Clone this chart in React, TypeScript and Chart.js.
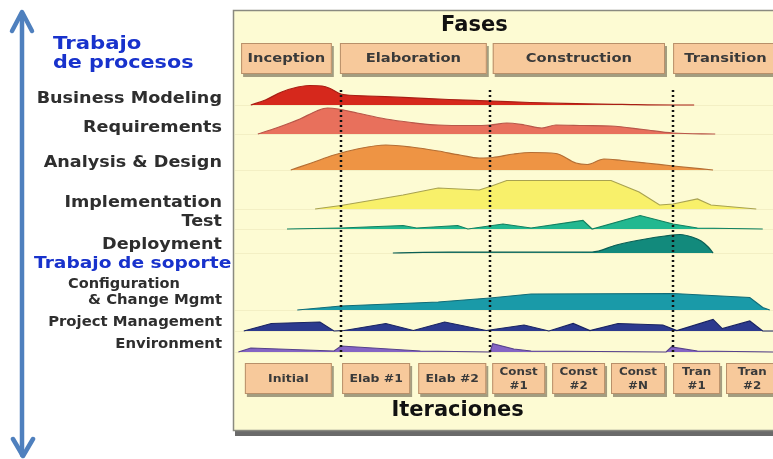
import React, { useEffect, useRef } from "react";
import { Chart, registerables } from "chart.js";

Chart.register(...registerables);

// ---- Phases / iterations (x in % of project timeline) ----
const phaseNames = ["Inception", "Elaboration", "Construction", "Transition"];
const phaseStart = [1.5, 19.8, 48.1, 81.5];
const phaseEnd = [18.3, 47.0, 80.0, 103];
const milestones = [20, 47.6, 81.5];

const iterationNames = [["Initial"], ["Elab #1"], ["Elab #2"], ["Const", "#1"], ["Const", "#2"], ["Const", "#N"], ["Tran", "#1"], ["Tran", "#2"]];
const iterStart = [2.2, 20.2, 34.3, 48.0, 59.1, 70.0, 81.5, 91.3];
const iterEnd = [18.3, 32.8, 46.9, 57.8, 68.9, 80.0, 90.2, 101];

// ---- Disciplines ----
const disciplineNames = [
  "Business Modeling", "Requirements", "Analysis & Design", "Implementation", "Test",
  "Deployment", "Configuration & Change Mgmt", "Project Management", "Environment",
];
const laneBase = [325, 296, 260, 221, 201, 177, 120, 99, 78];

// effort profiles: [time %, effort]
const businessModeling = [[3.3, 0], [6, 5], [9, 13], [12, 18], [14.2, 19.5], [16.5, 19], [18, 16.5], [20, 11], [25, 9], [31.5, 7.6], [40, 5.5], [47.9, 4], [55, 2.5], [63.5, 1.3], [72, 0.6], [81.5, 0], [85.4, 0]];
const requirements = [[4.6, 0], [8, 6], [12.4, 15], [15.5, 23], [17.5, 26], [19.5, 25], [23, 21], [28.3, 15], [33, 11.5], [38, 9], [44, 8.5], [47.6, 9], [50.7, 11], [54, 9], [57.2, 6], [59.8, 9], [65, 8.5], [70, 8], [76, 4.5], [81.5, 1], [89.3, 0]];
const analysisDesign = [[10.7, 0], [14.5, 7], [18.7, 15], [23, 21], [28.3, 25], [33, 23], [38, 19], [42, 15], [45.6, 12], [48.1, 12.5], [52, 16], [55.2, 17.5], [59.8, 16.5], [63.5, 7], [65.6, 5.5], [68.7, 11], [72, 9.5], [76.5, 7], [81.5, 4], [88.9, 0]];
const implementation = [[15.2, 0], [20, 3.5], [31.5, 14], [38, 21], [45.6, 19], [47.9, 23], [50.7, 28.5], [70, 28.5], [75.2, 17], [79, 4], [81.5, 5], [86, 10], [88.5, 4], [96.9, 0]];
const test = [[10, 0], [20, 1], [31.5, 3.5], [34, 1], [41.6, 3.5], [43.5, 0], [50, 5], [55.2, 1], [64.8, 8.7], [66.5, 0], [75.4, 13.5], [81.5, 5], [86, 1], [98.1, 0]];
const deployment = [[29.6, 0], [40, 0.8], [66.5, 1], [71, 8], [76.4, 14], [80, 17], [82.8, 18.5], [85, 16], [86.7, 12], [88, 6], [88.9, 0]];
const configuration = [[11.9, 0], [20, 4], [38, 8], [47.6, 12], [55.2, 16], [81.5, 16.5], [95.7, 12.5], [98.1, 2.5], [99.4, 0]];
const projectManagement = [[2, 0], [7.1, 7.5], [16.1, 9], [18.7, 0], [20.6, 0.5], [28.3, 7.5], [33.4, 0.5], [39.2, 9], [46.9, 0.5], [53.9, 6], [58.5, 0], [63, 7.5], [66.1, 0.5], [71.3, 7.5], [79.6, 6], [82.2, 0.5], [88.9, 11.6], [90.6, 2.3], [95.7, 10], [98.1, 0], [100, 0]];
const environment = [[1, 0], [3.3, 4], [18.7, 1], [20, 6], [34.7, 1], [47.6, 0], [48.1, 8.4], [52, 3], [55.2, 1], [80.2, 0], [81.2, 5], [86, 1], [100, 0]];

const profiles = [businessModeling, requirements, analysisDesign, implementation, test, deployment, configuration, projectManagement, environment];
const fillColors = ["#d6281c", "#e8705c", "#ee9444", "#f8f06a", "#22b890", "#128a7c", "#1a9aa8", "#2c3a8e", "#8464c4"];
const lineColors = ["#a81e14", "#b8574a", "#b46e34", "#a8a250", "#128060", "#0a5e54", "#106c78", "#1a2462", "#56428a"];
const smooth = [true, true, true, false, false, true, false, false, false];

// label layout (pixel offsets relative to lane baseline)
const labelLines = [["Business Modeling"], ["Requirements"], ["Analysis & Design"], ["Implementation"], ["Test"], ["Deployment"], ["Configuration", "& Change Mgmt"], ["Project Management"], ["Environment"]];
const labelDy = [[-6], [-6], [-7], [-6], [-7], [-8], [-26, -10], [-9], [-8]];

const FONT = "'DejaVu Sans', Verdana, sans-serif";

function box(ctx: CanvasRenderingContext2D, x0: number, y0: number, x1: number, y1: number) {
  ctx.fillStyle = "rgba(90,80,60,0.55)";
  ctx.fillRect(x0 + 2, y0 + 3, x1 - x0, y1 - y0);
  ctx.fillStyle = "#f7c99b";
  ctx.fillRect(x0, y0, x1 - x0, y1 - y0);
  ctx.strokeStyle = "#b8906a";
  ctx.lineWidth = 1;
  ctx.strokeRect(x0 + 0.5, y0 + 0.5, x1 - x0 - 1, y1 - y0 - 1);
}

// text drawn with a horizontal stretch (wide Verdana-like glyphs)
function text(ctx: CanvasRenderingContext2D, s: string, x: number, y: number, align: CanvasTextAlign, font: string, sx: number) {
  ctx.save();
  ctx.font = font;
  ctx.textAlign = align;
  ctx.textBaseline = "middle";
  ctx.translate(x, y);
  ctx.scale(sx, 1);
  ctx.fillText(s, 0, 0);
  ctx.restore();
}

const decor = {
  id: "decor",
  beforeDatasetsDraw(chart: any) {
    const ctx: CanvasRenderingContext2D = chart.ctx;
    const { left, right, top, bottom } = chart.chartArea;
    const xs = chart.scales.x;
    const ys = chart.scales.y;
    ctx.save();
    // panel
    ctx.fillStyle = "#6a6a6a";
    ctx.fillRect(left + 2, top + 3, right - left + 20, bottom - top + 3);
    ctx.fillStyle = "#fdfbd3";
    ctx.fillRect(left, top, right - left + 20, bottom - top);
    ctx.strokeStyle = "#8a8a80";
    ctx.lineWidth = 1.5;
    ctx.strokeRect(left + 0.5, top + 0.5, right - left + 20, bottom - top);

    // faint lane lines
    ctx.strokeStyle = "rgba(200,190,130,0.18)";
    ctx.lineWidth = 1;
    laneBase.forEach((b) => {
      const y = Math.round(ys.getPixelForValue(b)) + 0.5;
      ctx.beginPath();
      ctx.moveTo(left + 2, y);
      ctx.lineTo(right, y);
      ctx.stroke();
    });

    // Fases title
    ctx.fillStyle = "#111";
    text(ctx, "Fases", xs.getPixelForValue(44.7), top + 16, "center", `bold 21px ${FONT}`, 1);

    // phase boxes
    phaseNames.forEach((n, i) => {
      const x0 = xs.getPixelForValue(phaseStart[i]);
      const x1 = xs.getPixelForValue(phaseEnd[i]);
      box(ctx, x0, top + 33, x1, top + 64);
      ctx.fillStyle = "#3a3a3a";
      const cx = i === 3 ? xs.getPixelForValue(91.2) : (x0 + x1) / 2;
      text(ctx, n, cx, top + 49, "center", `bold 13px ${FONT}`, 1.13);
    });

    // iteration boxes
    iterationNames.forEach((lines, i) => {
      const x0 = xs.getPixelForValue(iterStart[i]);
      const x1 = xs.getPixelForValue(iterEnd[i]);
      box(ctx, x0, top + 353, x1, top + 384);
      ctx.fillStyle = "#3a3a3a";
      const cx = (x0 + x1) / 2;
      const f = `bold 11px ${FONT}`;
      if (lines.length === 1) text(ctx, lines[0], cx, top + 369, "center", f, 1.13);
      else {
        text(ctx, lines[0], cx, top + 362, "center", f, 1.08);
        text(ctx, lines[1], cx, top + 376, "center", f, 1.08);
      }
    });

    ctx.fillStyle = "#111";
    text(ctx, "Iteraciones", xs.getPixelForValue(41.6), top + 401, "center", `bold 21px ${FONT}`, 1);

    // left labels
    labelLines.forEach((lines, i) => {
      const yb = ys.getPixelForValue(laneBase[i]);
      lines.forEach((t, j) => {
        ctx.fillStyle = "#2e2e2e";
        if (i === 6 && j === 0) {
          text(ctx, t, 68, yb + labelDy[i][j], "left", `bold 14px ${FONT}`, 1.04);
        } else if (i >= 6) {
          text(ctx, t, 222, yb + labelDy[i][j], "right", `bold 14px ${FONT}`, 1.06);
        } else {
          text(ctx, t, 222, yb + labelDy[i][j], "right", `bold 16px ${FONT}`, 1.1);
        }
      });
    });

    // blue headings
    ctx.fillStyle = "#1832cc";
    text(ctx, "Trabajo", 53, 44, "left", `bold 18px ${FONT}`, 1.18);
    text(ctx, "de procesos", 53, 63, "left", `bold 18px ${FONT}`, 1.15);
    text(ctx, "Trabajo de soporte", 34, 264, "left", `bold 16.5px ${FONT}`, 1.13);

    // double arrow
    ctx.strokeStyle = "#4f80be";
    ctx.lineWidth = 4.5;
    ctx.lineCap = "round";
    ctx.lineJoin = "round";
    ctx.beginPath();
    ctx.moveTo(22, 13);
    ctx.lineTo(22, 455);
    ctx.stroke();
    ctx.beginPath();
    ctx.moveTo(12, 31);
    ctx.lineTo(22, 12);
    ctx.lineTo(32, 31);
    ctx.stroke();
    ctx.beginPath();
    ctx.moveTo(13, 439);
    ctx.lineTo(23, 456);
    ctx.lineTo(33, 439);
    ctx.stroke();
    ctx.restore();
  },
  afterDatasetsDraw(chart: any) {
    const ctx: CanvasRenderingContext2D = chart.ctx;
    const { top } = chart.chartArea;
    const xs = chart.scales.x;
    ctx.save();
    ctx.strokeStyle = "#111";
    ctx.lineWidth = 2.5;
    ctx.setLineDash([2, 3]);
    milestones.forEach((m) => {
      const x = Math.round(xs.getPixelForValue(m));
      ctx.beginPath();
      ctx.moveTo(x, top + 80);
      ctx.lineTo(x, top + 348);
      ctx.stroke();
    });
    ctx.restore();
  },
};

export default function App() {
  const ref = useRef<HTMLCanvasElement>(null);
  useEffect(() => {
    if (!ref.current) return;
    const datasets = profiles.map((p, i) => ({
      label: disciplineNames[i],
      data: p.map(([x, h]) => ({ x, y: laneBase[i] + h })),
      backgroundColor: fillColors[i],
      borderColor: lineColors[i],
      borderWidth: 1.2,
      pointRadius: 0,
      fill: { value: laneBase[i] },
      cubicInterpolationMode: smooth[i] ? ("monotone" as const) : ("default" as const),
      tension: 0,
    }));
    const chart = new Chart(ref.current, {
      type: "line",
      data: { datasets },
      options: {
        animation: false,
        responsive: false,
        layout: { padding: { left: 233, right: 0, top: 10, bottom: 29 } },
        plugins: { legend: { display: false }, tooltip: { enabled: false } },
        scales: {
          x: { type: "linear", min: 0, max: 100, display: false },
          y: { type: "linear", min: 0, max: 420, display: false },
        },
      },
      plugins: [decor],
    });
    return () => chart.destroy();
  }, []);
  return (
    <div style={{ position: "absolute", left: 0, top: 0, width: 773, height: 459, background: "#fff" }}>
      <canvas ref={ref} width={773} height={459} style={{ display: "block" }} />
    </div>
  );
}
